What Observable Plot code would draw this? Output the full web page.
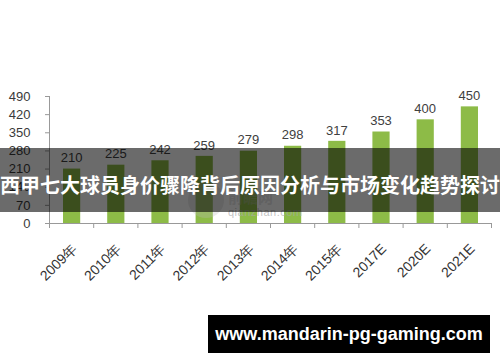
<!DOCTYPE html>
<html>
<head>
<meta charset="utf-8">
<script src="https://cdn.jsdelivr.net/npm/d3@7"></script>
<script src="https://cdn.jsdelivr.net/npm/@observablehq/plot@0.6"></script>
<style>
  html, body { margin: 0; padding: 0; background: #fff; }
  #wrap { position: relative; width: 500px; height: 362px; overflow: hidden; font-family: "Liberation Sans", Arial, sans-serif; }
  #chart svg { display: block; }
  .wm-circle { position: absolute; left: 188px; top: 182px; width: 36px; height: 36px; border-radius: 50%; background: rgba(190,190,190,0.3); }
  .wm-text { position: absolute; left: 228px; top: 206px; font-size: 11px; color: rgba(170,170,170,0.7); letter-spacing: 0.5px; }
  .wm-cn { position: absolute; left: 228px; top: 186px; font-size: 15px; font-weight: bold; color: rgba(190,190,190,0.4); font-family: "Noto Sans CJK SC", sans-serif; }
  #banner { position: absolute; left: 0; top: 148px; width: 500px; height: 64px; background: rgba(0,0,0,0.58); color: #fff;
    font-family: "Noto Sans CJK SC", sans-serif; font-weight: bold; font-size: 20px; line-height: 64px; text-align: center; padding-top: 5px; box-sizing: border-box; white-space: nowrap; }
  #site { position: absolute; left: 208px; top: 315px; width: 282px; height: 38px; background: #000; color: #fff;
    font-family: "Liberation Sans", Arial, sans-serif; font-weight: bold; font-size: 18px; line-height: 38px; text-align: center; }
</style>
</head>
<body>
<div id="wrap">
  <div id="chart"></div>
  <div class="wm-circle"></div>
  <div class="wm-cn">前瞻网</div>
  <div class="wm-text">qianzhan.com</div>
  <div id="banner"></div>
  <div id="site"></div>
</div>
<script>
const categories = ["2009年", "2010年", "2011年", "2012年", "2013年", "2014年", "2015年", "2017E", "2020E", "2021E"];
const values = [210, 225, 242, 259, 279, 298, 317, 353, 400, 450];
const yTicks = [0, 70, 140, 210, 280, 350, 420, 490];
const titleText = "西甲七大球员身价骤降背后原因分析与市场变化趋势探讨";
const siteText = "www.mandarin-pg-gaming.com";

const data = categories.map((c, i) => ({i, category: c, value: values[i]}));
const boundaries = d3.range(categories.length + 1);
const centers = categories.map((c, i) => i + 0.5);

const chart = Plot.plot({
  width: 500,
  height: 362,
  marginTop: 96,
  marginBottom: 139,
  marginLeft: 49,
  marginRight: 9,
  style: {fontFamily: "'Liberation Sans', Arial, sans-serif", color: "#333", background: "transparent"},
  x: {type: "linear", domain: [0, categories.length]},
  y: {domain: [0, 490]},
  marks: [
    Plot.rectY(data, {x1: "i", x2: d => d.i + 1, y: "value", fill: "#8dbb47", insetLeft: 14, insetRight: 13}),
    Plot.text(data, {x: d => d.i + 0.5, y: "value", text: d => String(d.value), dy: -11, fontSize: 13, fill: "#404040"}),
    Plot.axisY({ticks: yTicks, tickSize: 4, tickPadding: 15, fontSize: 13, stroke: "#999", fill: "#3a3a3a", label: null}),
    Plot.axisX({ticks: boundaries, tickSize: 5, tickFormat: () => "", stroke: "#999", label: null}),
    Plot.axisX({ticks: centers, tickSize: 0, tickPadding: 23, dx: 3, tickRotate: -45, fontSize: 14, fill: "#333",
      tickFormat: v => categories[Math.floor(v)], label: null}),
    Plot.ruleY([0], {stroke: "#999"}),
    Plot.ruleX([0], {stroke: "#999"})
  ]
});
document.getElementById("chart").appendChild(chart);
document.getElementById("banner").textContent = titleText;
document.getElementById("site").textContent = siteText;
</script>
</body>
</html>
